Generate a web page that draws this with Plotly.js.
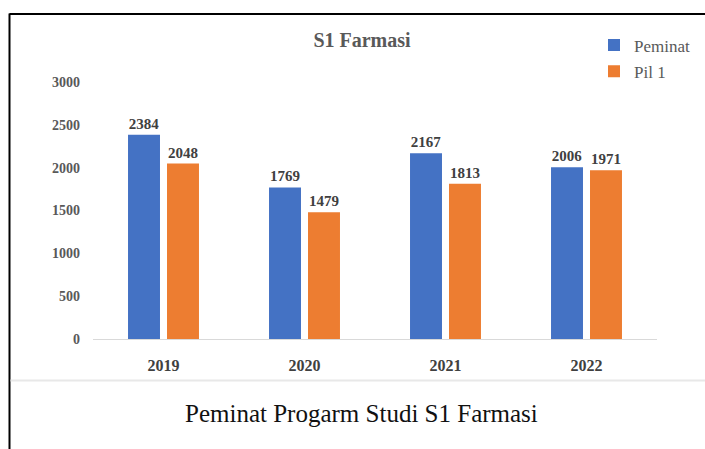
<!DOCTYPE html>
<html>
<head>
<meta charset="utf-8">
<script src="https://cdn.plot.ly/plotly-3.0.1.min.js"></script>
<style>html,body{margin:0;padding:0;background:#fff;overflow:hidden;}</style>
</head>
<body>
<div id="chart"></div>
<script>
const years = ['2019', '2020', '2021', '2022'];
const peminat = [2384, 1769, 2167, 2006];
const pil1 = [2048, 1479, 1813, 1971];
const yTicks = [0, 500, 1000, 1500, 2000, 2500, 3000];
const seriesNames = ['Peminat', 'Pil 1'];
const chartTitle = 'S1 Farmasi';
const caption = 'Peminat Progarm Studi S1 Farmasi';

const serif = 'Liberation Serif';
const W = 705, H = 449;
const L = 93, R = 657, T = 81.6, B = 339;
const pw = R - L, ph = B - T;
const px = v => (v - L) / pw;
const py = v => (B - v) / ph;

const labelFont = {family: serif, size: 15, color: '#404040', weight: 'bold'};

const traces = [
  {type: 'bar', x: years, y: peminat, name: seriesNames[0], legendgroup: 'a', marker: {color: '#4472c4'},
   text: peminat.map(String), textposition: 'outside', textfont: labelFont, cliponaxis: false},
  {type: 'bar', x: years, y: pil1, name: seriesNames[1], legendgroup: 'b', marker: {color: '#ed7d31'},
   text: pil1.map(String), textposition: 'outside', textfont: labelFont, cliponaxis: false}
];

const layout = {
  width: W, height: H,
  margin: {l: L, r: W - R, t: T, b: H - B, pad: 0, autoexpand: false},
  paper_bgcolor: '#fff', plot_bgcolor: '#fff',
  barmode: 'group', bargap: 0.447, bargroupgap: 0.18,
  showlegend: true,
  title: {text: chartTitle, font: {family: serif, size: 20, color: '#595959', weight: 'bold'},
          x: 362 / W, xanchor: 'center', xref: 'container', y: 1 - 40 / H, yanchor: 'middle', yref: 'container'},
  legend: {x: px(594), y: py(27), xanchor: 'left', yanchor: 'top', bgcolor: 'rgba(0,0,0,0)',
           font: {family: serif, size: 17, color: '#595959'}, itemwidth: 30, tracegroupgap: 1},
  xaxis: {type: 'category', showline: true, linecolor: '#d9d9d9', linewidth: 1, ticks: '',
          tickfont: {family: serif, size: 16, color: '#404040', weight: 'bold'}, ticklabelstandoff: 12,
          showgrid: false, zeroline: false, fixedrange: true},
  yaxis: {range: [0, 3000], tickvals: yTicks, ticktext: yTicks.map(String), showgrid: false, zeroline: false,
          showline: false, ticks: '', tickfont: {family: serif, size: 14, color: '#595959', weight: 'bold'},
          ticklabelstandoff: 12, fixedrange: true},
  shapes: [
    {type: 'line', xref: 'paper', yref: 'paper', x0: px(9.5), x1: px(706), y0: py(13.5), y1: py(13.5), line: {color: '#000', width: 2}},
    {type: 'line', xref: 'paper', yref: 'paper', x0: px(9.5), x1: px(9.5), y0: py(13), y1: py(450), line: {color: '#000', width: 2}},
    {type: 'line', xref: 'paper', yref: 'paper', x0: px(10.5), x1: px(706), y0: py(380.5), y1: py(380.5), line: {color: '#e8e8e8', width: 2}}
  ],
  annotations: [
    {text: caption, xref: 'paper', yref: 'paper', x: px(361), y: py(414), xanchor: 'center', yanchor: 'middle',
     showarrow: false, font: {family: serif, size: 25, color: '#111'}}
  ]
};

Plotly.newPlot('chart', traces, layout, {displayModeBar: false, staticPlot: true});
</script>
</body>
</html>
